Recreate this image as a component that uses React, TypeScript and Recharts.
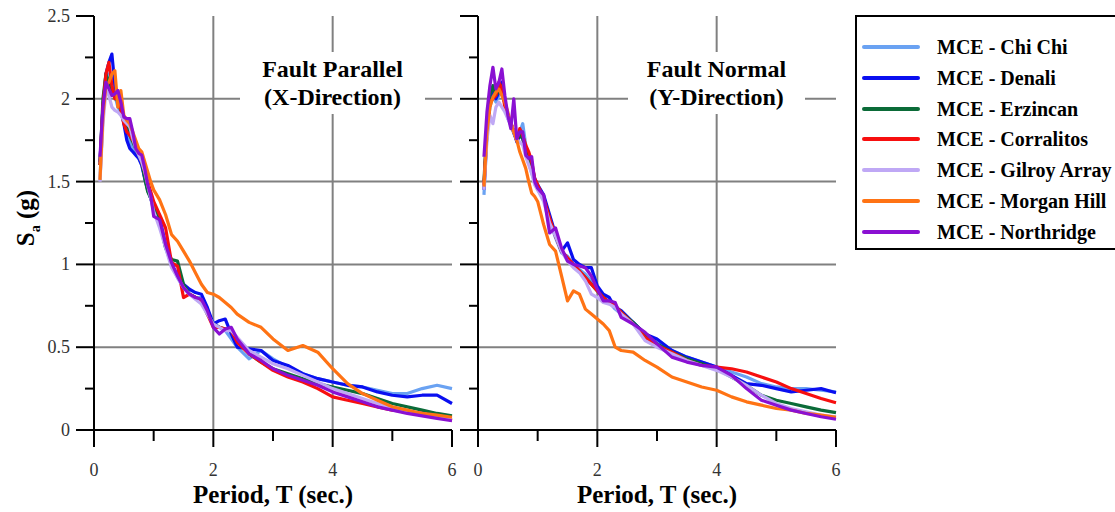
import React from "react";
import { LineChart, Line, XAxis, YAxis, ReferenceLine } from "recharts";

// periods (sec.) shared by every record in both panels
const PERIODS = [
  0.1, 0.15, 0.2, 0.25, 0.3, 0.35, 0.4, 0.45, 0.5, 0.55, 0.6, 0.65, 0.7, 0.75, 0.8, 0.85, 0.9, 0.95,
  1.0, 1.1, 1.2, 1.3, 1.4, 1.5, 1.6, 1.7, 1.8, 1.9, 2.0, 2.1, 2.2, 2.3, 2.4,
  2.6, 2.8, 3.0, 3.25, 3.5, 3.75, 4.0, 4.25, 4.5, 4.75, 5.0, 5.25, 5.5, 5.75, 6.0,
];

// Fault parallel (X-direction), Sa in g
const X_CHICHI = [
  1.51, 1.9, 2.1, 2.15, 2.12, 2.02, 1.95, 1.92, 1.86, 1.8, 1.74, 1.7, 1.68, 1.64, 1.6, 1.53, 1.46, 1.4,
  1.33, 1.25, 1.1, 1.0, 0.92, 0.86, 0.82, 0.8, 0.8, 0.72, 0.65, 0.62, 0.6, 0.55, 0.5,
  0.43, 0.48, 0.43, 0.38, 0.34, 0.31, 0.29, 0.27, 0.26, 0.24, 0.22, 0.22, 0.25, 0.27, 0.25,
];
const X_DENALI = [
  1.62, 1.95, 2.15, 2.22, 2.27, 2.08, 2.0, 1.95, 1.85, 1.75, 1.7, 1.68, 1.66, 1.64, 1.6, 1.52, 1.45, 1.4,
  1.35, 1.28, 1.12, 1.0, 0.93, 0.88, 0.85, 0.83, 0.82, 0.74, 0.64, 0.66, 0.67, 0.58, 0.5,
  0.49, 0.48, 0.42, 0.39, 0.34, 0.31, 0.29, 0.27, 0.26, 0.23, 0.21, 0.2, 0.21, 0.21, 0.16,
];
const X_ERZINCAN = [
  1.6, 2.0, 2.15, 2.1, 2.05, 2.02, 1.98, 1.93, 1.88, 1.83, 1.78, 1.74, 1.7, 1.66, 1.62, 1.52, 1.44, 1.4,
  1.35, 1.25, 1.1, 1.03, 1.02, 0.88, 0.82, 0.8, 0.78, 0.7, 0.64, 0.62, 0.61, 0.6, 0.55,
  0.46, 0.41, 0.37, 0.34, 0.31, 0.28, 0.26, 0.24, 0.22, 0.19, 0.16, 0.14, 0.12, 0.1, 0.085,
];
const X_CORRALITOS = [
  1.6, 1.95, 2.15, 2.22, 2.08, 2.0, 2.02, 1.93, 1.85, 1.8, 1.78, 1.75, 1.72, 1.68, 1.62, 1.56, 1.5, 1.44,
  1.38, 1.3, 1.22, 1.01, 0.99, 0.8, 0.82, 0.8, 0.78, 0.7, 0.62, 0.62, 0.61, 0.6, 0.53,
  0.46, 0.41, 0.36, 0.32, 0.29, 0.25, 0.2, 0.18, 0.16, 0.14, 0.12, 0.11, 0.1, 0.08, 0.06,
];
const X_GILROY = [
  1.5, 1.85, 2.05, 2.02, 1.95, 1.93, 1.92, 1.9, 1.87, 1.85, 1.83, 1.76, 1.7, 1.66, 1.62, 1.56, 1.48, 1.4,
  1.32, 1.22, 1.1, 0.98, 0.92, 0.86, 0.82, 0.79, 0.76, 0.7, 0.64, 0.62, 0.6, 0.6, 0.56,
  0.48, 0.44, 0.4, 0.37, 0.33, 0.29, 0.25, 0.22, 0.19, 0.16, 0.13, 0.11, 0.09, 0.08, 0.068,
];
const X_MORGAN = [
  1.51, 1.9, 2.08, 2.1, 2.15, 2.17, 1.95, 2.05, 1.9, 1.87, 1.85, 1.8, 1.75, 1.7, 1.68, 1.62, 1.56, 1.5,
  1.45, 1.39, 1.3, 1.18, 1.14, 1.08, 1.02, 0.95, 0.88, 0.83, 0.82, 0.8, 0.77, 0.74, 0.7,
  0.65, 0.62, 0.55, 0.48, 0.51, 0.47, 0.37, 0.28, 0.22, 0.18, 0.14, 0.12, 0.1, 0.09, 0.077,
];
const X_NORTHRIDGE = [
  1.65, 1.95, 2.1, 2.06, 2.02, 2.03, 2.05, 1.98, 1.89, 1.88, 1.88, 1.8, 1.7, 1.67, 1.66, 1.58, 1.48, 1.42,
  1.29, 1.27, 1.12, 1.01, 0.93, 0.86, 0.82, 0.8, 0.79, 0.72, 0.62, 0.58, 0.61, 0.62, 0.55,
  0.46, 0.42, 0.37, 0.33, 0.3, 0.27, 0.23, 0.2, 0.17, 0.14, 0.12, 0.1, 0.085, 0.07, 0.056,
];

// Fault normal (Y-direction), Sa in g
const Y_CHICHI = [
  1.42, 1.78, 1.95, 2.02, 1.98, 2.02, 2.05, 1.97, 1.88, 1.84, 1.79, 1.75, 1.8, 1.85, 1.72, 1.62, 1.55, 1.5,
  1.45, 1.4, 1.27, 1.16, 1.07, 1.05, 1.0, 0.97, 0.94, 0.9, 0.85, 0.8, 0.77, 0.73, 0.7,
  0.65, 0.58, 0.54, 0.48, 0.44, 0.41, 0.38, 0.35, 0.32, 0.28, 0.26, 0.25, 0.25, 0.24, 0.23,
];
const Y_DENALI = [
  1.45, 1.8, 1.98, 2.05, 2.0, 2.04, 2.1, 1.98, 1.9, 1.85, 1.8, 1.74, 1.78, 1.76, 1.7, 1.64, 1.6, 1.52,
  1.48, 1.42, 1.3, 1.18, 1.08, 1.13, 1.03, 1.0, 0.98, 0.98, 0.87, 0.82, 0.8, 0.74, 0.72,
  0.65, 0.58, 0.55, 0.48, 0.44, 0.41, 0.38, 0.33, 0.28, 0.27, 0.25, 0.23, 0.24, 0.25, 0.225,
];
const Y_ERZINCAN = [
  1.5, 1.85, 2.02, 2.08, 2.02, 2.05, 2.08, 1.97, 1.9, 1.85, 1.8, 1.75, 1.78, 1.76, 1.68, 1.62, 1.58, 1.5,
  1.46, 1.4, 1.27, 1.17, 1.08, 1.03, 0.99, 0.96, 0.92, 0.88, 0.84, 0.8, 0.77, 0.75, 0.71,
  0.65, 0.58, 0.52, 0.47, 0.43, 0.4, 0.37, 0.32, 0.27, 0.21, 0.18, 0.16, 0.14, 0.12, 0.105,
];
const Y_CORRALITOS = [
  1.48, 1.8, 1.98, 2.0, 2.02, 2.1, 2.06, 1.95, 1.9, 1.86, 1.8, 1.75, 1.82, 1.78, 1.72, 1.68, 1.62, 1.52,
  1.48, 1.4, 1.28, 1.17, 1.08, 1.04, 1.0, 0.96, 0.92, 0.88, 0.84, 0.8, 0.77, 0.75, 0.71,
  0.64, 0.56, 0.51, 0.47, 0.42, 0.39, 0.38, 0.37, 0.35, 0.32, 0.29, 0.25, 0.22, 0.19, 0.165,
];
const Y_GILROY = [
  1.45, 1.75, 1.9, 1.85, 1.95, 1.98, 1.95, 1.92, 1.88, 1.85, 1.8, 1.75, 1.74, 1.72, 1.65, 1.6, 1.55, 1.48,
  1.45, 1.38, 1.25, 1.17, 1.08, 1.02, 0.98, 0.95, 0.9, 0.82, 0.8, 0.77, 0.76, 0.74, 0.7,
  0.64, 0.54, 0.5, 0.46, 0.42, 0.39, 0.36, 0.32, 0.27, 0.21, 0.16, 0.13, 0.11, 0.09, 0.08,
];
const Y_MORGAN = [
  1.47, 1.8, 1.95, 2.01, 2.04, 2.06, 2.02, 1.98, 1.92, 1.85, 1.8, 1.75, 1.68, 1.63, 1.58, 1.5, 1.43, 1.41,
  1.38, 1.24, 1.12, 1.08, 0.93, 0.78, 0.84, 0.82, 0.73, 0.7, 0.67, 0.64, 0.6, 0.5, 0.48,
  0.47, 0.42, 0.38, 0.32, 0.29, 0.26, 0.24, 0.2, 0.17, 0.15, 0.13, 0.12, 0.1, 0.09, 0.077,
];
const Y_NORTHRIDGE = [
  1.65, 1.92, 2.08, 2.19, 2.06, 2.1, 2.18, 2.02, 1.9, 1.82, 2.0, 1.76, 1.8, 1.8, 1.66, 1.64, 1.65, 1.5,
  1.46, 1.42, 1.19, 1.22, 1.1, 1.02, 1.0, 0.99, 0.98, 0.93, 0.85, 0.78, 0.78, 0.77, 0.68,
  0.64, 0.59, 0.52, 0.44, 0.41, 0.39, 0.38, 0.33, 0.25, 0.18, 0.15, 0.12, 0.1, 0.08, 0.065,
];

const SERIES = [
  { key: "chichi", name: "MCE - Chi Chi", color: "#6aa2f2" },
  { key: "denali", name: "MCE - Denali", color: "#0a0ff0" },
  { key: "erzincan", name: "MCE - Erzincan", color: "#0b6b38" },
  { key: "corralitos", name: "MCE - Corralitos", color: "#f70f0f" },
  { key: "gilroy", name: "MCE - Gilroy Array", color: "#bfa8f5" },
  { key: "morgan", name: "MCE - Morgan Hill", color: "#ff7314" },
  { key: "northridge", name: "MCE - Northridge", color: "#8a10d2" },
];

const X_SETS = [X_CHICHI, X_DENALI, X_ERZINCAN, X_CORRALITOS, X_GILROY, X_MORGAN, X_NORTHRIDGE];
const Y_SETS = [Y_CHICHI, Y_DENALI, Y_ERZINCAN, Y_CORRALITOS, Y_GILROY, Y_MORGAN, Y_NORTHRIDGE];

const SA_TICKS = [0, 0.25, 0.5, 0.75, 1, 1.25, 1.5, 1.75, 2, 2.25, 2.5];
const SA_INNER_TICKS = [0.25, 0.5, 0.75, 1, 1.25, 1.5, 1.75, 2, 2.25];
const T_TICKS = [0, 1, 2, 3, 4, 5, 6];
const T_TOP_TICKS = [1, 3, 5];
const GRID_SA = [0.5, 1, 1.5, 2];
const GRID_T = [2, 4];

const SERIF = "'Liberation Serif', 'Times New Roman', serif";
const GRID = "#808080";

function buildRows(sets: number[][]) {
  return PERIODS.map((t, i) => {
    const row: Record<string, number> = { t };
    SERIES.forEach((s, j) => {
      row[s.key] = sets[j][i];
    });
    return row;
  });
}

const X_ROWS = buildRows(X_SETS);
const Y_ROWS = buildRows(Y_SETS);

function SaTick(props: any) {
  const { x, y, payload, showLabel } = props;
  const v = payload.value;
  const major = Math.abs(v * 2 - Math.round(v * 2)) < 1e-6;
  const len = major ? 18 : 9;
  return (
    <g>
      <line x1={x} y1={y} x2={x - len} y2={y} stroke="#000" strokeWidth={2} />
      {major && showLabel && (
        <text x={x - 24} y={y} dy={6} textAnchor="end" fontFamily={SERIF} fontSize={18} fill="#333">
          {String(v)}
        </text>
      )}
    </g>
  );
}

function TTick(props: any) {
  const { x, y, payload } = props;
  const v = payload.value;
  const major = v % 2 === 0;
  const len = major ? 17 : 11;
  return (
    <g>
      <line x1={x} y1={y} x2={x} y2={y + len} stroke="#000" strokeWidth={2} />
      {major && (
        <text x={x} y={y + 46} textAnchor="middle" fontFamily={SERIF} fontSize={18} fill="#333">
          {String(v)}
        </text>
      )}
    </g>
  );
}

function Panel({ rows, width, yWidth, right, showLabels }: any) {
  return (
    <LineChart width={width} height={512} data={rows} margin={{ top: 16, right, bottom: 0, left: 0 }}>
      <XAxis
        dataKey="t"
        type="number"
        domain={[0, 6]}
        ticks={T_TICKS}
        interval={0}
        height={82}
        tickSize={0}
        tickMargin={0}
        tickLine={false}
        tick={<TTick />}
        axisLine={{ stroke: "#000", strokeWidth: 2 }}
      />
      <XAxis
        xAxisId="top"
        dataKey="t"
        type="number"
        orientation="top"
        mirror
        domain={[0, 6]}
        ticks={T_TOP_TICKS}
        interval={0}
        height={0}
        tickSize={8}
        tick={false}
        tickLine={{ stroke: "#000", strokeWidth: 2 }}
        axisLine={{ stroke: "#000", strokeWidth: 2 }}
      />
      <YAxis
        type="number"
        domain={[0, 2.5]}
        ticks={SA_TICKS}
        interval={0}
        width={yWidth}
        tickSize={0}
        tickMargin={0}
        tickLine={false}
        tick={<SaTick showLabel={showLabels} />}
        axisLine={{ stroke: "#000", strokeWidth: 2 }}
      />
      <YAxis
        yAxisId="right"
        type="number"
        orientation="right"
        mirror
        domain={[0, 2.5]}
        ticks={SA_INNER_TICKS}
        interval={0}
        width={0}
        tickSize={9}
        tick={false}
        tickLine={{ stroke: "#000", strokeWidth: 2 }}
        axisLine={{ stroke: "#000", strokeWidth: 2.5 }}
      />
      {GRID_SA.map((v) => (
        <ReferenceLine key={"gy" + v} y={v} stroke={GRID} strokeWidth={2} />
      ))}
      {GRID_T.map((v) => (
        <ReferenceLine key={"gx" + v} x={v} stroke={GRID} strokeWidth={2} />
      ))}
      {SERIES.map((s) => (
        <Line
          key={s.key}
          type="linear"
          dataKey={s.key}
          stroke={s.color}
          strokeWidth={3.2}
          dot={false}
          strokeLinejoin="round"
          isAnimationActive={false}
        />
      ))}
    </LineChart>
  );
}

const noteStyle: React.CSSProperties = {
  position: "absolute",
  top: 52,
  height: 62,
  background: "#fff",
  fontFamily: SERIF,
  fontWeight: "bold",
  fontSize: 24,
  lineHeight: "28px",
  textAlign: "center",
  paddingTop: 3,
  boxSizing: "border-box",
  whiteSpace: "nowrap",
};

const titleStyle: React.CSSProperties = {
  position: "absolute",
  top: 481,
  transform: "translateX(-50%)",
  fontFamily: SERIF,
  fontWeight: "bold",
  fontSize: 25,
  lineHeight: "28px",
  whiteSpace: "nowrap",
  color: "#000",
};

export default function App() {
  return (
    <div
      style={{
        position: "absolute",
        left: 0,
        top: 0,
        width: 1115,
        height: 512,
        overflow: "hidden",
        background: "#fff",
      }}
    >
      <div style={{ position: "absolute", left: 0, top: 0 }}>
        <Panel rows={X_ROWS} width={460} yWidth={94} right={8} showLabels />
      </div>
      <div style={{ position: "absolute", left: 456, top: 0 }}>
        <Panel rows={Y_ROWS} width={390} yWidth={22} right={10} showLabels={false} />
      </div>

      <div style={{ ...noteStyle, left: 240, width: 185 }}>
        Fault Parallel
        <br />
        (X-Direction)
      </div>
      <div style={{ ...noteStyle, left: 628, width: 177 }}>
        Fault Normal
        <br />
        (Y-Direction)
      </div>

      <div style={{ ...titleStyle, left: 273 }}>Period, T (sec.)</div>
      <div style={{ ...titleStyle, left: 657 }}>Period, T (sec.)</div>

      <div
        style={{
          position: "absolute",
          left: 28,
          top: 218,
          transform: "translate(-50%, -50%) rotate(-90deg)",
          fontFamily: SERIF,
          fontWeight: "bold",
          fontSize: 25,
          whiteSpace: "nowrap",
        }}
      >
        S<sub style={{ fontSize: 14 }}>a</sub> (g)
      </div>

      <div
        style={{
          position: "absolute",
          left: 855,
          top: 15,
          width: 290,
          height: 235,
          border: "2px solid #000",
          boxSizing: "border-box",
          background: "#fff",
        }}
      >
        {SERIES.map((s, i) => (
          <div
            key={s.key}
            style={{ position: "absolute", left: 0, top: 30 + i * 30.8 - 14, height: 28, width: 280 }}
          >
            <div
              style={{
                position: "absolute",
                left: 5,
                top: 12,
                width: 58,
                height: 4,
                borderRadius: 2,
                background: s.color,
              }}
            />
            <div
              style={{
                position: "absolute",
                left: 80,
                top: 0,
                fontFamily: SERIF,
                fontWeight: "bold",
                fontSize: 20,
                lineHeight: "28px",
                whiteSpace: "nowrap",
              }}
            >
              {s.name}
            </div>
          </div>
        ))}
      </div>
    </div>
  );
}
